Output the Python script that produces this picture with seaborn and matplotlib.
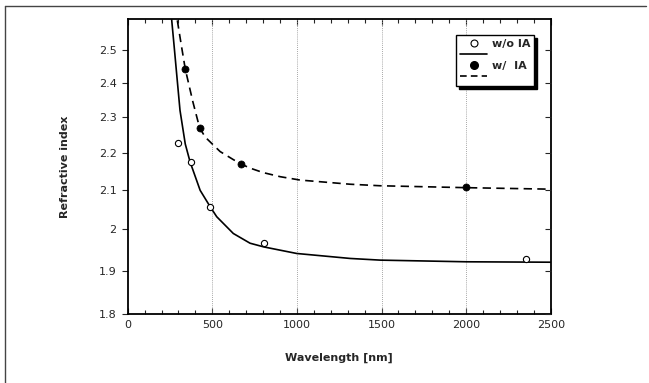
import matplotlib
matplotlib.use('Agg')
import matplotlib.pyplot as plt
from matplotlib.lines import Line2D
from matplotlib.ticker import FixedLocator, FixedFormatter, NullLocator, MultipleLocator
import seaborn as sns
import pandas as pd

# ---- data ----
wl_without = [300, 372, 488, 804, 2352]
n_without = [2.228, 2.175, 2.058, 1.967, 1.928]

wl_with = [340, 425, 670, 2000]
n_with = [2.443, 2.270, 2.170, 2.109]

fit_without_wl = [252, 260, 274, 291, 309, 340, 369, 428, 488, 526, 624, 723, 804, 901, 999, 1315, 1492, 2003, 2500]
fit_without_n = [2.640, 2.596, 2.515, 2.418, 2.320, 2.225, 2.175, 2.100, 2.057, 2.032, 1.990, 1.966, 1.957,
                 1.949, 1.941, 1.929, 1.925, 1.921, 1.920]

fit_with_wl = [287, 293, 315, 340, 385, 425, 458, 506, 546, 624, 670, 723, 800, 901, 1019, 1315, 1492, 1995, 2500]
fit_with_n = [2.640, 2.596, 2.522, 2.443, 2.345, 2.270, 2.244, 2.222, 2.204, 2.182, 2.170, 2.159, 2.147,
              2.136, 2.127, 2.116, 2.112, 2.107, 2.103]

x_ticks = [0, 500, 1000, 1500, 2000, 2500]
grid_x = [500, 1000, 1500, 2000]
y_ticks = [1.8, 1.9, 2.0, 2.1, 2.2, 2.3, 2.4, 2.5]
y_tick_labels = ['1.8', '1.9', '2', '2.1', '2.2', '2.3', '2.4', '2.5']
legend_labels = ['w/o IA', '', 'w/  IA', '']

df_pts_without = pd.DataFrame({'wl': wl_without, 'n': n_without})
df_pts_with = pd.DataFrame({'wl': wl_with, 'n': n_with})
df_fit_without = pd.DataFrame({'wl': fit_without_wl, 'n': fit_without_n})
df_fit_with = pd.DataFrame({'wl': fit_with_wl, 'n': fit_with_n})

sns.set_style('ticks')
plt.rcParams['font.family'] = ['DejaVu Sans']

fig = plt.figure(figsize=(6.49, 3.83), dpi=100)
ax = fig.add_axes([0.1968, 0.1802, 0.6518, 0.7702])
ax.set_yscale('log')
ax.set_xlim(0, 2500)
ax.set_ylim(1.8, 2.6)

for xv in grid_x:
    ax.axvline(xv, color='#8a8a8a', lw=0.6, ls=(0, (1, 1.5)), zorder=1)

sns.lineplot(data=df_fit_without, x='wl', y='n', ax=ax, color='black', lw=1.2,
             sort=False, estimator=None, zorder=2)
sns.lineplot(data=df_fit_with, x='wl', y='n', ax=ax, color='black', lw=1.2,
             sort=False, estimator=None, zorder=2, linestyle=(0, (5, 3.2)))

sns.scatterplot(data=df_pts_without, x='wl', y='n', ax=ax, marker='o', s=20,
                color='white', edgecolor='black', linewidth=0.8, zorder=3)
sns.scatterplot(data=df_pts_with, x='wl', y='n', ax=ax, marker='o', s=26,
                color='black', edgecolor='black', linewidth=0.5, zorder=3)

# ticks
ax.xaxis.set_major_locator(FixedLocator(x_ticks))
ax.xaxis.set_minor_locator(MultipleLocator(100))
ax.tick_params(axis='x', which='both', direction='in', top=True, bottom=True, width=0.8)
ax.tick_params(axis='x', which='major', length=4, labelsize=8, pad=4)
ax.tick_params(axis='x', which='minor', length=3)

ax.yaxis.set_major_locator(FixedLocator(y_ticks))
ax.yaxis.set_major_formatter(FixedFormatter(y_tick_labels))
ax.yaxis.set_minor_locator(NullLocator())
ax.tick_params(axis='y', which='major', direction='out', left=True, right=False,
               length=4, width=0.8, labelsize=8, pad=4)

ax2 = ax.twinx()
ax2.set_yscale('log')
ax2.set_ylim(1.8, 2.6)
ax2.yaxis.set_major_locator(FixedLocator(y_ticks))
ax2.yaxis.set_minor_locator(NullLocator())
ax2.tick_params(axis='y', which='major', direction='in', length=4, width=0.8,
                labelright=False, right=True)
for s in ax2.spines.values():
    s.set_visible(False)

for s in ax.spines.values():
    s.set_visible(True)
    s.set_linewidth(1.3)
    s.set_color('black')

ax.set_xlabel('Wavelength [nm]', fontsize=8, fontweight='bold')
ax.set_ylabel('Refractive index', fontsize=8, fontweight='bold')
ax.xaxis.set_label_coords(0.5, -0.13)
ax.yaxis.set_label_coords(-0.137, 0.5)

handles = [
    Line2D([], [], ls='none', marker='o', mfc='white', mec='black', ms=5, mew=0.8),
    Line2D([], [], color='black', lw=1.2),
    Line2D([], [], ls='none', marker='o', mfc='black', mec='black', ms=5.5),
    Line2D([], [], color='black', lw=1.2, ls=(0, (4, 2.5))),
]
leg = ax.legend(handles, legend_labels, loc='upper left', bbox_to_anchor=(0.7754, 0.9458),
                borderaxespad=0, prop={'size': 8, 'weight': 'bold'}, frameon=True,
                fancybox=False, shadow={'color': 'black', 'alpha': 1}, edgecolor='black',
                framealpha=1, handlelength=2.5, handletextpad=0.4, labelspacing=0.1,
                borderpad=0.35)
leg.get_frame().set_linewidth(1.0)
leg.set_zorder(10)

# outer frame (top & left edges)
fig.add_artist(Line2D([4.5 / 649, 4.5 / 649], [0, 1 - 5.5 / 383], transform=fig.transFigure,
                      color='#444444', lw=1))
fig.add_artist(Line2D([4.5 / 649, 645.5 / 649], [1 - 5.5 / 383, 1 - 5.5 / 383],
                      transform=fig.transFigure, color='#444444', lw=1))

fig.savefig('out.png', dpi=100)
